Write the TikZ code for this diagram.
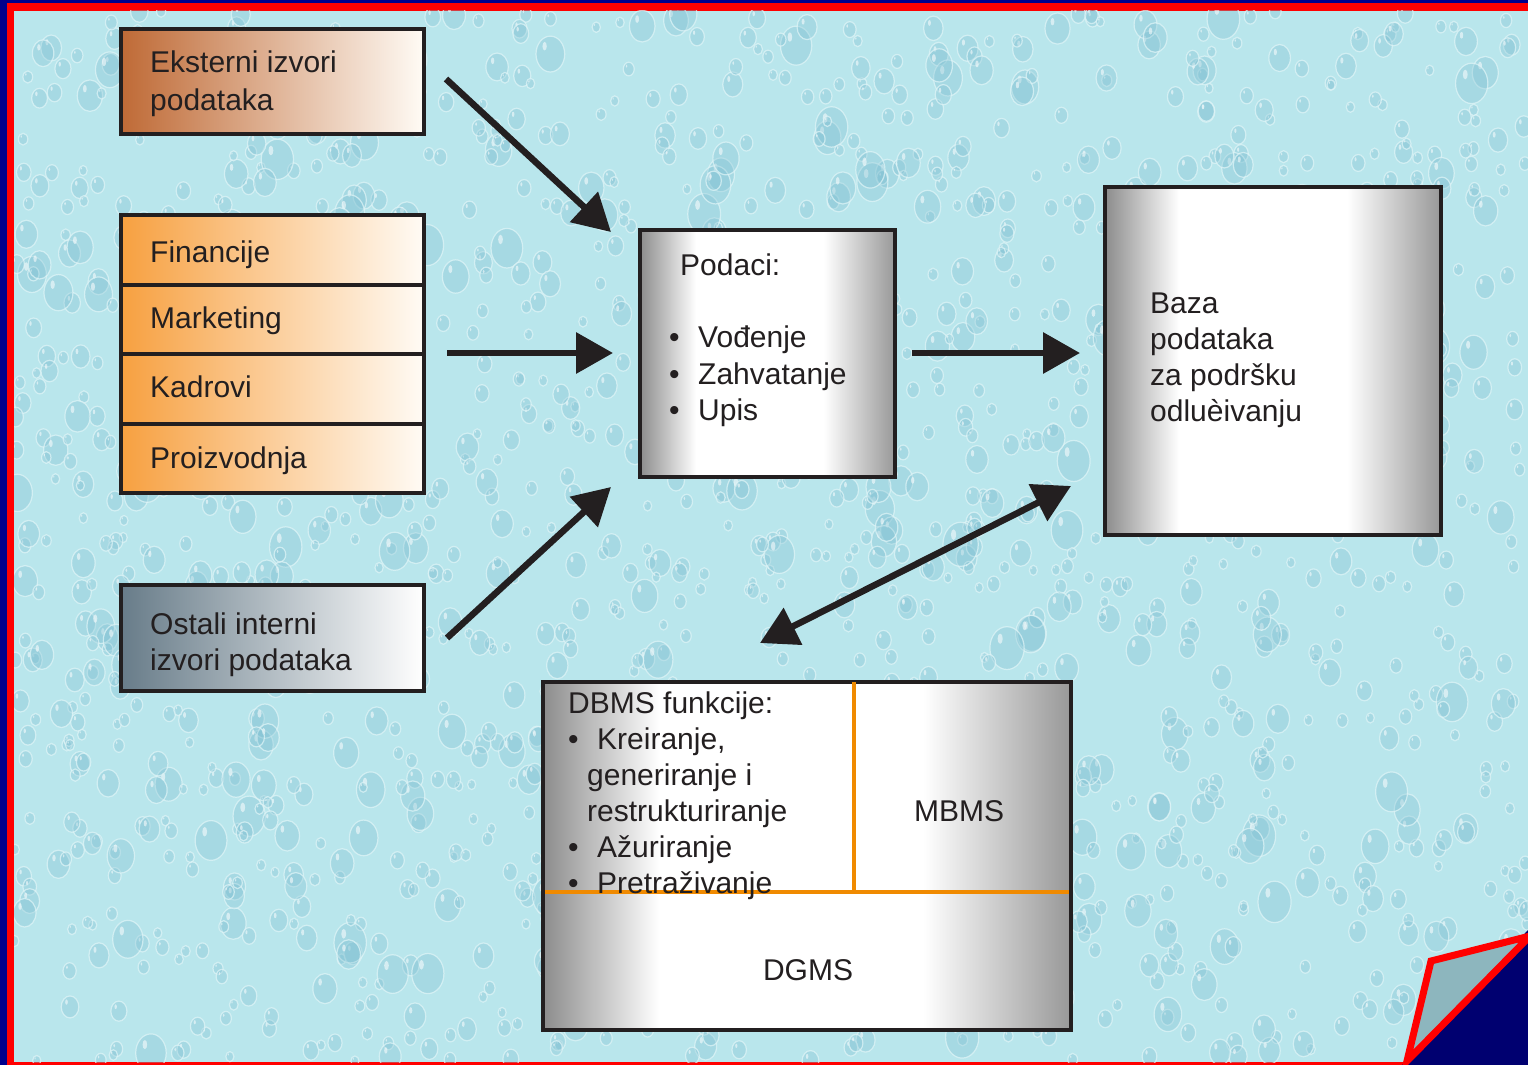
\documentclass[tikz,border=0pt]{standalone}
\usepackage{fontspec}
\setmainfont{Liberation Sans}
\usetikzlibrary{arrows.meta}

\definecolor{ink}{HTML}{231F20}
\definecolor{navyband}{HTML}{00008C}
\definecolor{navycorner}{HTML}{000070}
\definecolor{framered}{HTML}{FF0000}
\definecolor{water}{HTML}{B9E6EC}
\definecolor{dropcol}{HTML}{7FC0D2}
\definecolor{rimcol}{HTML}{E2F6F8}
\definecolor{curlfill}{HTML}{8DB6BE}
\definecolor{divider}{HTML}{F08A00}
\definecolor{orangeL}{HTML}{F7A040}
\definecolor{brownL}{HTML}{BF6A36}
\definecolor{slateL}{HTML}{687C89}
\definecolor{metalL}{HTML}{8C8C8C}
\definecolor{metalR}{HTML}{989898}
\definecolor{paleR}{HTML}{FFFBF5}

% horizontal fades; the path spans 25bp..75bp of each shading
\pgfdeclarehorizontalshading{orangefade}{100bp}{color(0bp)=(orangeL); color(25bp)=(orangeL); color(75bp)=(paleR); color(100bp)=(paleR)}
\pgfdeclarehorizontalshading{brownfade}{100bp}{color(0bp)=(brownL); color(25bp)=(brownL); color(75bp)=(paleR); color(100bp)=(paleR)}
\pgfdeclarehorizontalshading{slatefade}{100bp}{color(0bp)=(slateL); color(25bp)=(slateL); color(75bp)=(white); color(100bp)=(white)}
\pgfdeclarehorizontalshading{metal}{100bp}{color(0bp)=(metalL); color(25bp)=(metalL); color(36bp)=(white); color(61bp)=(white); color(75bp)=(metalR); color(100bp)=(metalR)}

\tikzset{
  box/.style={rectangle, draw=ink, line width=4pt, inner sep=0pt, anchor=center},
  txt/.style={inner sep=0pt, anchor=base west, text=ink, font=\fontsize{30}{36}\selectfont},
  ctxt/.style={txt, anchor=base},
  bigarrow/.style={draw=ink, line width=6.5pt, -{Triangle[length=37pt,width=40pt]}},
  twoway/.style={draw=ink, line width=6.5pt, {Triangle[length=37pt,width=40pt]}-{Triangle[length=37pt,width=40pt]}},
  drop/.style={fill=dropcol, fill opacity=0.32, draw=rimcol, draw opacity=0.7, line width=1.2pt},
  shine/.style={fill=white, opacity=0.55},
}

\begin{document}
\begin{tikzpicture}[x=1pt, y=-1pt]
\useasboundingbox (0,0) rectangle (1528,1065);

% slide frame
\fill[navyband] (0,0) rectangle (1528,1065);
\fill[framered] (7,3) rectangle (1528,1065);
\fill[water] (14,11) rectangle (1528,1062);

% water-drop texture
\begin{scope}
  \clip (14,11) rectangle (1528,1062);
  \pgfmathsetseed{42}
  \foreach \k in {1,...,1700}{
    \pgfmathsetmacro\dx{14+1514*rnd}
    \pgfmathsetmacro\dy{11+1051*rnd}
    \pgfmathsetmacro\dr{4+14*rnd*rnd}
    \filldraw[drop] (\dx,\dy) ellipse [x radius=\dr, y radius=1.25*\dr];
    \fill[shine] (\dx-0.4*\dr,\dy-0.55*\dr) ellipse [x radius=0.15*\dr, y radius=0.3*\dr];
  }
\end{scope}

% turned-up page corner
\fill[navycorner] (1402,1065) -- (1528,930) -- (1528,1065) -- cycle;
\filldraw[fill=curlfill, draw=framered, line width=7pt, line join=miter]
  (1407,1061) -- (1431,961) -- (1530,936) -- cycle;
\fill[navycorner] (1412,1065) -- (1528,944) -- (1528,1065) -- cycle;

% source boxes
\node[box, shading=brownfade, minimum width=303, minimum height=105] (eks) at (272.5,81.5) {};
\node[box, shading=orangefade, minimum width=303, minimum height=69.5] (fin) at (272.5,249.75) {};
\node[box, shading=orangefade, minimum width=303, minimum height=69.5] (mkt) at (272.5,319.25) {};
\node[box, shading=orangefade, minimum width=303, minimum height=69.5] (kad) at (272.5,388.75) {};
\node[box, shading=orangefade, minimum width=303, minimum height=69.5] (pro) at (272.5,458.25) {};
\node[box, shading=slatefade, minimum width=303, minimum height=106] (ost) at (272.5,638) {};

% data, warehouse and management boxes
\node[box, shading=metal, minimum width=255, minimum height=247] (pod) at (767.5,353.5) {};
\node[box, shading=metal, minimum width=336, minimum height=348] (baza) at (1273,361) {};
\node[box, shading=metal, minimum width=528, minimum height=348] (dbms) at (807,856) {};

% subsystem dividers
\coordinate (vtop) at (854,682);
\coordinate (vbot) at (854,892);
\coordinate (hl) at (545,892);
\coordinate (hr) at (1069,892);
\draw[divider, line width=3.5pt] (vtop) -- (vbot);
\draw[divider, line width=3.5pt] (hl) -- (hr);

% labels
\node[txt] (eks1) at (150,73) {Eksterni izvori};
\node[txt] (eks2) at (150,110) {podataka};
\node[txt] (fint) at (150,262) {Financije};
\node[txt] (mktt) at (150,328) {Marketing};
\node[txt] (kadt) at (150,397) {Kadrovi};
\node[txt] (prot) at (150,468) {Proizvodnja};
\node[txt] (ost1) at (150,634) {Ostali interni};
\node[txt] (ost2) at (150,670) {izvori podataka};

\node[txt] (pod0) at (680,275) {Podaci:};
\node[txt] (pb1) at (669,347) {•};
\node[txt] (pod1) at (698,347) {Vođenje};
\node[txt] (pb2) at (669,384) {•};
\node[txt] (pod2) at (698,384) {Zahvatanje};
\node[txt] (pb3) at (669,420) {•};
\node[txt] (pod3) at (698,420) {Upis};

\node[txt] (baza1) at (1150,313) {Baza};
\node[txt] (baza2) at (1150,349) {podataka};
\node[txt] (baza3) at (1150,385) {za podršku};
\node[txt] (baza4) at (1150,421) {odluèivanju};

\node[txt] (db0) at (568,713) {DBMS funkcije:};
\node[txt] (db1b) at (568,749) {•};
\node[txt] (db1) at (597,749) {Kreiranje,};
\node[txt] (db1c) at (587,785) {generiranje i};
\node[txt] (db1d) at (587,821) {restrukturiranje};
\node[txt] (db2b) at (568,857) {•};
\node[txt] (db2) at (597,857) {Ažuriranje};
\node[txt] (db3b) at (568,893) {•};
\node[txt] (db3) at (597,893) {Pretraživanje};

\node[ctxt] (mbms) at (959,821) {MBMS};
\node[ctxt] (dgms) at (808,980) {DGMS};

% flow arrows
\coordinate (a1s) at (446,79);
\coordinate (a1e) at (611,232);
\coordinate (a2s) at (447,353);
\coordinate (a2e) at (613,353);
\coordinate (a3s) at (447,638);
\coordinate (a3e) at (611,487);
\coordinate (a4s) at (912,353);
\coordinate (a4e) at (1080,353);
\coordinate (a5s) at (760,643);
\coordinate (a5e) at (1071,486);
\draw[bigarrow] (a1s) -- (a1e);
\draw[bigarrow] (a2s) -- (a2e);
\draw[bigarrow] (a3s) -- (a3e);
\draw[bigarrow] (a4s) -- (a4e);
\draw[twoway] (a5s) -- (a5e);
\end{tikzpicture}
\end{document}
